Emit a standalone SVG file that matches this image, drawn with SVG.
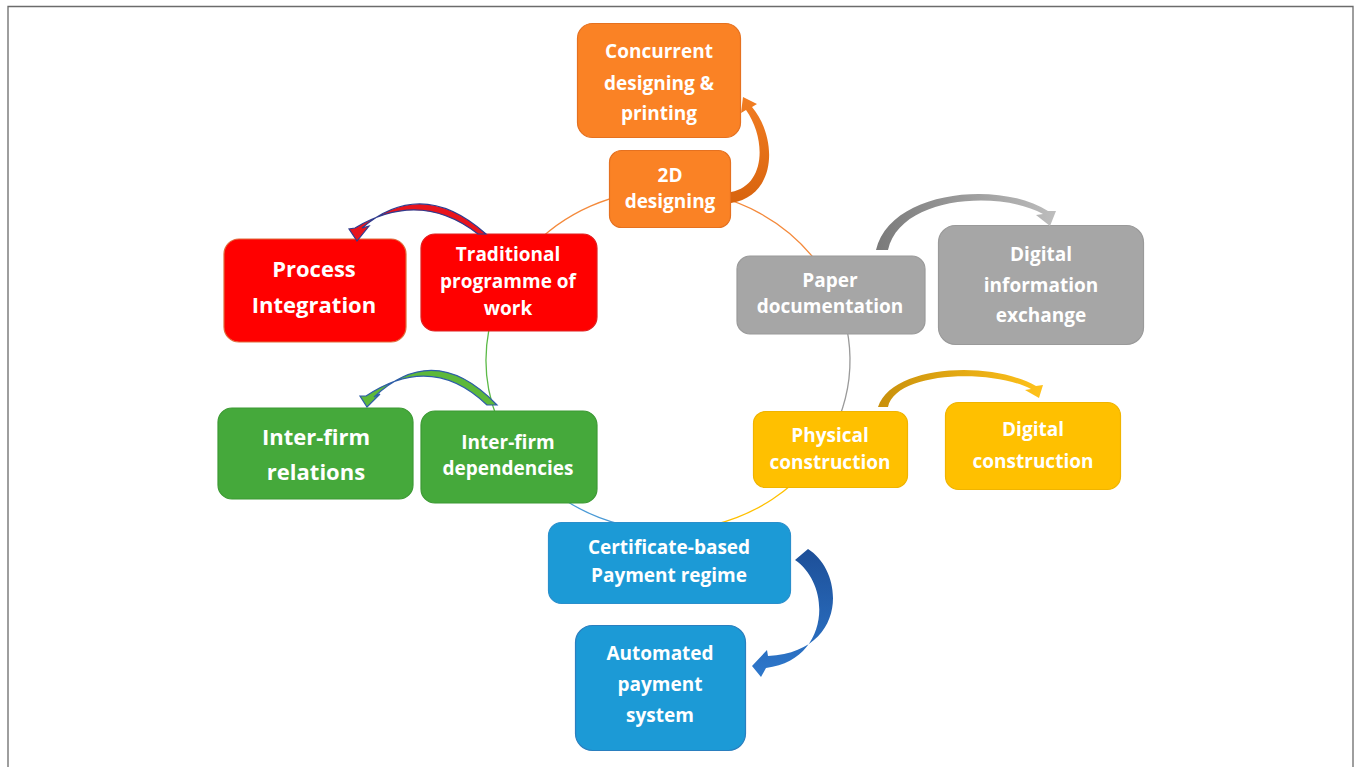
<svg xmlns="http://www.w3.org/2000/svg" width="1356" height="767" viewBox="0 0 1356 767">
<style>
.box{stroke-width:1.2}
.t{font-family:"Open Sans","Liberation Sans",Arial,sans-serif;font-weight:700;fill:#fff;text-anchor:middle;font-size:19px}
.big{font-size:22px}
.ring{fill:none;stroke-width:1.3}
</style>
<defs>
<linearGradient id="gGrey" x1="0" y1="0" x2="1" y2="0"><stop offset="0" stop-color="#7a7a7a"/><stop offset="1" stop-color="#bdbdbd"/></linearGradient>
<linearGradient id="gGold" x1="0" y1="0" x2="1" y2="0"><stop offset="0" stop-color="#c8900c"/><stop offset="1" stop-color="#ffc21a"/></linearGradient>
<linearGradient id="gBlue" x1="0" y1="0" x2="0" y2="1"><stop offset="0" stop-color="#1d4f98"/><stop offset="1" stop-color="#2e78cc"/></linearGradient>
<linearGradient id="gOrange" x1="0" y1="1" x2="0" y2="0"><stop offset="0" stop-color="#d8640e"/><stop offset="1" stop-color="#f27d22"/></linearGradient>
</defs>
<rect width="1356" height="767" fill="#fff"/>
<path d="M8,780 V6.5 H1353 V780" fill="none" stroke="#6b6b6b" stroke-width="1.3"/>

<g id="connectors">
<path class="ring" stroke="#f48a3c" d="M528.6,250.7 A182,170 0 0 1 817.1,262.5"/>
<path class="ring" stroke="#9a9a9a" d="M817.1,262.5 A182,170 0 0 1 839,418.1"/>
<path class="ring" stroke="#ffc000" d="M839,418.1 A182,170 0 0 1 668,530"/>
<path class="ring" stroke="#4a9ad6" d="M668,530 A182,170 0 0 1 497,418.1"/>
<path class="ring" stroke="#5cba47" d="M497,418.1 A182,170 0 0 1 528.6,250.7"/>
</g>

<g id="node-concurrent"><rect class="box" x="577.5" y="23.5" width="163" height="114" rx="15" fill="#fa8225" stroke="#e57120"/>
<text class="t"><tspan x="659" y="58">Concurrent</tspan><tspan x="659" y="90">designing &amp;</tspan><tspan x="659" y="120">printing</tspan></text></g>
<g id="node-2d"><rect class="box" x="609.5" y="150.5" width="121" height="77" rx="12" fill="#fa8225" stroke="#e57120"/>
<text class="t"><tspan x="670" y="182">2D</tspan><tspan x="670" y="208">designing</tspan></text></g>
<g id="node-traditional"><rect class="box" x="421" y="234" width="176" height="97" rx="14" fill="#ff0000" stroke="#e02020"/>
<text class="t"><tspan x="508" y="261">Traditional</tspan><tspan x="508" y="288">programme of</tspan><tspan x="508" y="315">work</tspan></text></g>
<g id="node-process"><rect class="box" x="224" y="239" width="182" height="103" rx="15" fill="#ff0000" stroke="#e06a3a"/>
<text class="t big"><tspan x="314" y="277">Process</tspan><tspan x="314" y="313">Integration</tspan></text></g>
<g id="node-dependencies"><rect class="box" x="421" y="411" width="176" height="92" rx="14" fill="#45a93b" stroke="#3d9a34"/>
<text class="t"><tspan x="508" y="449">Inter-firm</tspan><tspan x="508" y="475">dependencies</tspan></text></g>
<g id="node-relations"><rect class="box" x="218" y="408" width="195" height="91" rx="14" fill="#45a93b" stroke="#3d9a34"/>
<text class="t big"><tspan x="316" y="445">Inter-firm</tspan><tspan x="316" y="480">relations</tspan></text></g>
<g id="node-paper"><rect class="box" x="737" y="256" width="188" height="78" rx="13" fill="#a6a6a6" stroke="#9a9a9a"/>
<text class="t"><tspan x="830" y="287">Paper</tspan><tspan x="830" y="313">documentation</tspan></text></g>
<g id="node-digital-info"><rect class="box" x="938.5" y="225.5" width="205" height="119" rx="17" fill="#a6a6a6" stroke="#9a9a9a"/>
<text class="t"><tspan x="1041" y="261">Digital</tspan><tspan x="1041" y="292">information</tspan><tspan x="1041" y="322">exchange</tspan></text></g>
<g id="node-physical"><rect class="box" x="753.5" y="411.5" width="154" height="76" rx="12" fill="#ffc000" stroke="#f0b400"/>
<text class="t"><tspan x="830" y="442">Physical</tspan><tspan x="830" y="469">construction</tspan></text></g>
<g id="node-digital-construction"><rect class="box" x="945.5" y="402.5" width="175" height="87" rx="13" fill="#ffc000" stroke="#f0b400"/>
<text class="t"><tspan x="1033" y="436">Digital</tspan><tspan x="1033" y="468">construction</tspan></text></g>
<g id="node-certificate"><rect class="box" x="548.5" y="522.5" width="242" height="81" rx="13" fill="#1c9ad6" stroke="#2a8fcc"/>
<text class="t"><tspan x="669" y="554">Certificate-based</tspan><tspan x="669" y="582">Payment regime</tspan></text></g>
<g id="node-automated"><rect class="box" x="575.5" y="625.5" width="170" height="125" rx="17" fill="#1c9ad6" stroke="#2a7fbf"/>
<text class="t"><tspan x="660" y="660">Automated</tspan><tspan x="660" y="691">payment</tspan><tspan x="660" y="722">system</tspan></text></g>

<g id="arrows">
<path fill="url(#gOrange)" d="M731,203 C777,196 778,138 752,107 L757,104 L743,97 L741,113 L746,110 C767,140 765,186 731,192 Z"/>
<path fill="#e8141c" stroke="#2f3c8f" stroke-width="1.2" d="M486,234 Q422,177 362,228 L369,226 L357,241 L349,229 L355,228 Q420,189 478,234 Z"/>
<path fill="#5db83a" stroke="#2e5da8" stroke-width="1.2" d="M497,405 Q435,340 374,397 L380,394 L367,407 L360,396 L366,396 Q432,352 487,405 Z"/>
<path fill="url(#gGrey)" d="M876,250 C890,190 1000,180 1048,211 L1056,211 L1050,226 L1036,215 L1043,214 C1000,190 900,196 888,250 Z"/>
<path fill="url(#gGold)" d="M878,407 C892,365 990,360 1036,386 L1043,385 L1039,398 L1025,390 L1031,389 C990,368 895,372 888,407 Z"/>
<path fill="url(#gBlue)" d="M808,549 C845,572 848,652 768,656 L767,650 L752,666 L761,677 L766,668 C830,660 832,585 795,560 Z"/>
</g>
</svg>
